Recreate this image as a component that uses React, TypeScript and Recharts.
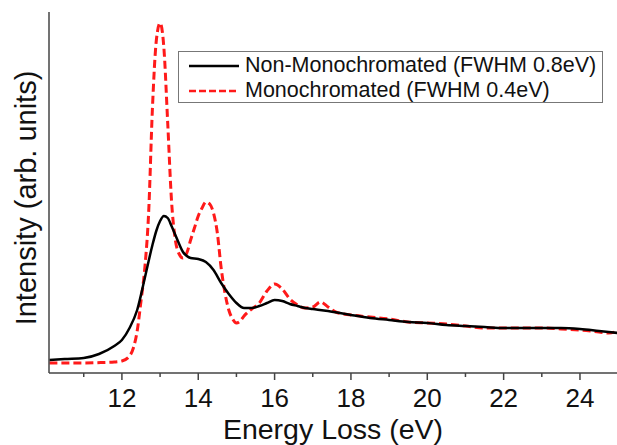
import React from 'react';
import { LineChart, Line, XAxis, YAxis } from 'recharts';

// energy loss (eV) and intensity (arb. units)
const nonMonoEnergy = [
  10.1, 10.5, 11.0, 11.4, 11.8, 12.0, 12.2, 12.4, 12.6, 12.8, 12.9, 13.0, 13.1, 13.2, 13.3,
  13.4, 13.5, 13.6, 13.7, 13.8, 14.0, 14.2, 14.4, 14.6, 14.8, 15.0, 15.2, 15.4, 15.6, 15.8,
  16.0, 16.2, 16.4, 16.6, 16.8, 17.0, 17.4, 18.0, 18.5, 19.0, 19.5, 20.0, 20.5, 21.0, 21.5,
  22.0, 22.5, 23.0, 23.5, 24.0, 24.5, 25.0,
];
const nonMonoIntensity = [
  13, 14, 15, 19, 27, 33, 45, 63, 95, 128, 142, 152, 157, 155, 147,
  138, 129, 121, 117, 115, 114, 111, 103, 90, 79, 70, 65, 65, 67, 70,
  73, 72, 69, 67, 65, 64, 62, 58, 55, 53, 51, 50, 48, 47, 46,
  45, 45, 45, 45, 44, 42, 40,
];

const monoEnergy = [
  10.1, 10.5, 11.0, 11.5, 11.8, 12.0, 12.2, 12.3, 12.4, 12.5, 12.6, 12.7, 12.8, 12.9, 13.0,
  13.1, 13.2, 13.3, 13.4, 13.5, 13.6, 13.7, 13.8, 13.9, 14.0, 14.1, 14.2, 14.3, 14.4, 14.5,
  14.6, 14.7, 14.8, 14.9, 15.0, 15.1, 15.2, 15.4, 15.6, 15.8, 16.0, 16.2, 16.4, 16.6, 16.8,
  17.0, 17.2, 17.4, 17.6, 18.0, 18.5, 19.0, 19.5, 20.0, 20.5, 21.0, 21.5, 22.0, 22.5, 23.0,
  23.5, 24.0, 24.5, 24.75, 25.0,
];
const monoIntensity = [
  10, 10, 10, 10.5, 11, 12, 17, 25, 42, 72, 105, 160, 265, 332, 350,
  325, 250, 172, 133, 119, 115, 120, 133, 145, 157, 165, 171, 169, 160, 140,
  105, 80, 63, 54, 50, 52, 57, 64, 70, 82, 89, 84, 74, 68, 65,
  66, 71, 66, 61, 58, 56, 54, 51, 50, 49, 47, 45, 45, 45, 45,
  44, 43, 41, 40, 42,
];

const majorTicks = [12, 14, 16, 18, 20, 22, 24];
const allTicks = [11, 12, 13, 14, 15, 16, 17, 18, 19, 20, 21, 22, 23, 24];

const seriesLabels = ['Non-Monochromated (FWHM 0.8eV)', 'Monochromated (FWHM 0.4eV)'];

const nonMonoData = nonMonoEnergy.map((e, i) => ({ energy: e, intensity: nonMonoIntensity[i] }));
const monoData = monoEnergy.map((e, i) => ({ energy: e, intensity: monoIntensity[i] }));

const FONT = '"Liberation Sans", Arial, Helvetica, sans-serif';
const AXIS = '#444';
const RED = '#ff1a1a';

const EnergyTick = (props: any) => {
  const { x, y, payload } = props;
  const major = majorTicks.includes(payload.value);
  return (
    <g>
      <line x1={x} x2={x} y1={y} y2={y + (major ? 7 : 4)} stroke={AXIS} strokeWidth={1.5} />
      {major && (
        <text x={x} y={y + 34} textAnchor="middle" fontSize={26} fontFamily={FONT} fill="#111">
          {payload.value}
        </text>
      )}
    </g>
  );
};

const LegendBox = () => (
  <div
    style={{
      position: 'absolute',
      left: 178,
      top: 51,
      border: '1px solid #777',
      background: '#fff',
      width: 425,
      height: 52,
      boxSizing: 'border-box',
      fontFamily: FONT,
      fontSize: 21.5,
      color: '#111',
      paddingTop: 1,
    }}
  >
    {[
      { label: seriesLabels[0], color: '#000', dash: undefined },
      { label: seriesLabels[1], color: RED, dash: '7 3' },
    ].map((r) => (
      <div key={r.label} style={{ display: 'flex', alignItems: 'center', height: 25, whiteSpace: 'nowrap' }}>
        <svg width={66} height={10} style={{ flex: 'none' }}>
          <line x1={10} x2={60} y1={5} y2={5} stroke={r.color} strokeWidth={2.5} strokeDasharray={r.dash} />
        </svg>
        <span>{r.label}</span>
      </div>
    ))}
  </div>
);

const App = () => {
  return (
    <div style={{ position: 'absolute', left: 0, top: 0, width: 617, height: 445, background: '#fff', overflow: 'hidden' }}>
      <LineChart width={617} height={445} margin={{ top: 12, right: 0, bottom: 0, left: 0 }}>
        <XAxis
          type="number"
          dataKey="energy"
          domain={[10.09, 24.97]}
          ticks={allTicks}
          allowDataOverflow
          interval={0}
          height={72}
          tickSize={0}
          tickMargin={0}
          tickLine={false}
          tick={<EnergyTick />}
          axisLine={{ stroke: AXIS, strokeWidth: 1.5 }}
          label={{
            content: () => (
              <text x={333} y={439} textAnchor="middle" fontSize={28.5} fontFamily={FONT} fill="#111">
                Energy Loss (eV)
              </text>
            ),
          }}
        />
        <YAxis
          type="number"
          domain={[0, 361]}
          width={49}
          tick={false}
          tickLine={false}
          axisLine={{ stroke: AXIS, strokeWidth: 1.5 }}
          label={{
            content: () => (
              <text
                x={36}
                y={198}
                textAnchor="middle"
                fontSize={29}
                fontFamily={FONT}
                fill="#111"
                transform="rotate(-90, 36, 198)"
              >
                Intensity (arb. units)
              </text>
            ),
          }}
        />
        <Line
          data={monoData}
          dataKey="intensity"
          name={seriesLabels[1]}
          type="monotone"
          stroke={RED}
          strokeWidth={3}
          strokeDasharray="8 4"
          dot={false}
          isAnimationActive={false}
        />
        <Line
          data={nonMonoData}
          dataKey="intensity"
          name={seriesLabels[0]}
          type="monotone"
          stroke="#000"
          strokeWidth={2.5}
          dot={false}
          isAnimationActive={false}
        />
      </LineChart>
      <LegendBox />
    </div>
  );
};

export default App;
